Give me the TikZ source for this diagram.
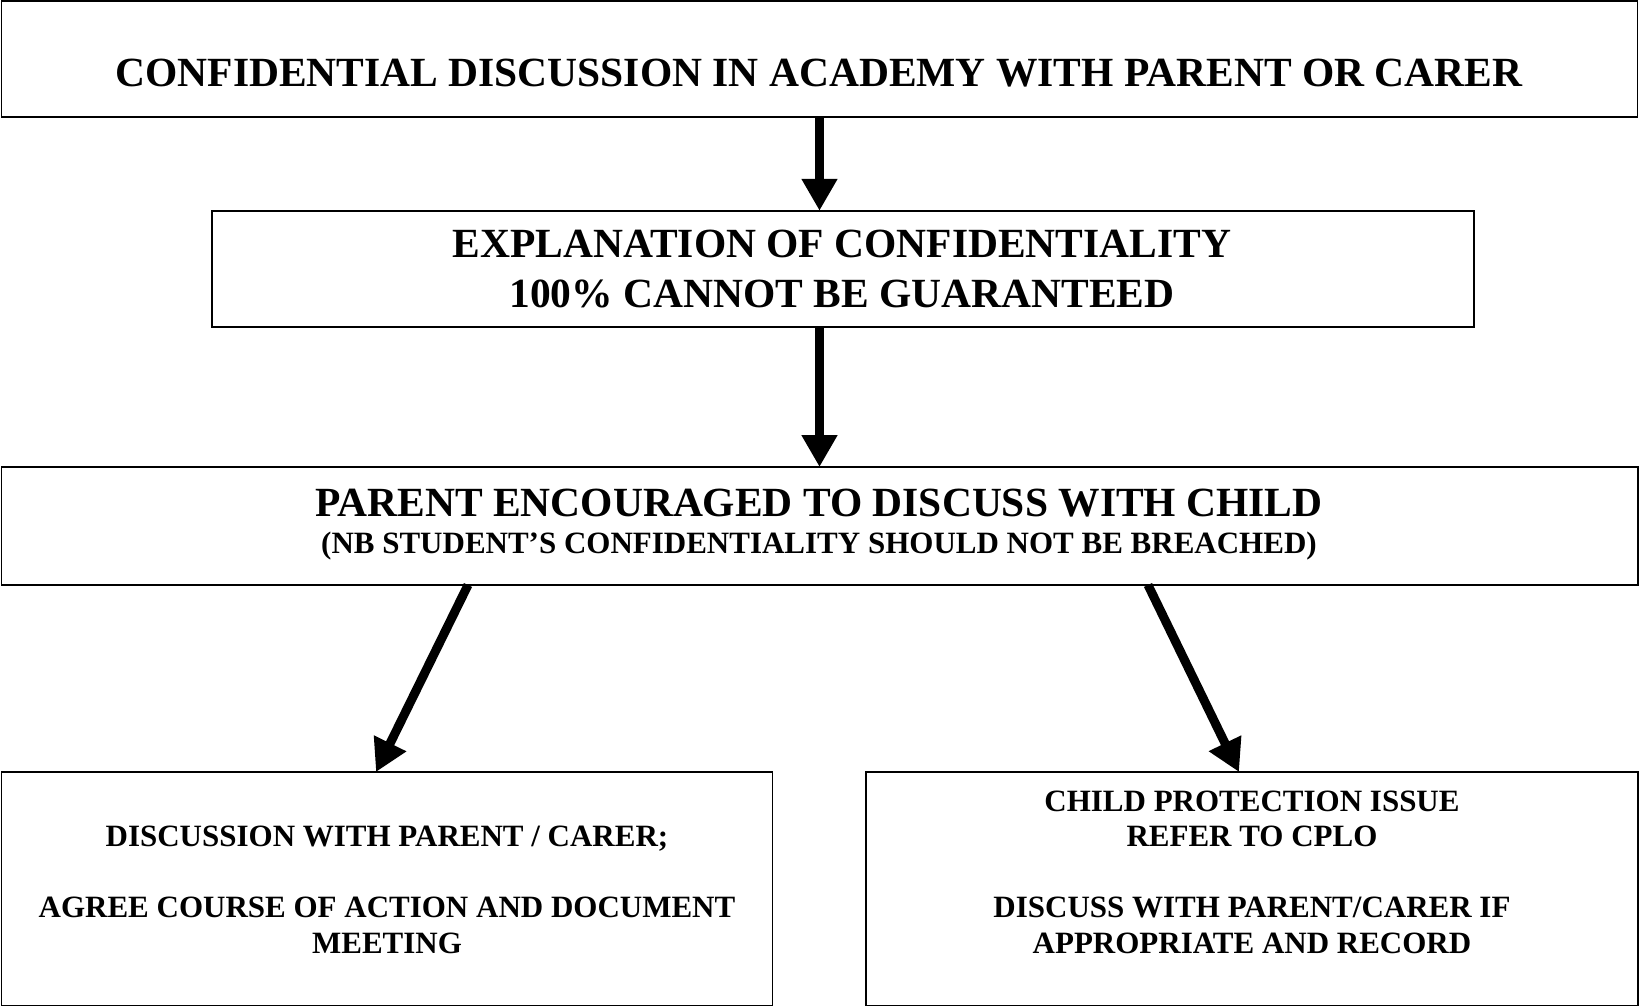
\documentclass[tikz,border=0pt]{standalone}
\usepackage{fontspec}
\setmainfont{Liberation Serif}
\usetikzlibrary{arrows.meta}
\begin{document}
\begin{tikzpicture}[x=1pt,y=-1pt,
  box/.style={draw=black,line width=1.6pt,inner sep=0pt,outer sep=0pt},
  big/.style={inner sep=0pt,anchor=base,font=\bfseries\fontsize{41.5}{48}\selectfont},
  small/.style={inner sep=0pt,anchor=base,font=\bfseries\fontsize{31}{36}\selectfont},
  arr/.style={line width=9pt,-{Triangle[width=34pt,length=32pt]}}]
\useasboundingbox (0,0) rectangle (1639,1007);
% boxes
\node[box,minimum width=1636pt,minimum height=116pt] (b1) at (819.5,59) {};
\node[box,minimum width=1262pt,minimum height=116.5pt] (b2) at (843,269) {};
\node[box,minimum width=1636.5pt,minimum height=118pt] (b3) at (819.75,526) {};
\node[box,minimum width=771pt,minimum height=233.5pt] (b4) at (387,888.75) {};
\node[box,minimum width=772pt,minimum height=233.5pt] (b5) at (1252,888.75) {};
% texts
\node[big] (t1) at (819,86) {CONFIDENTIAL DISCUSSION IN ACADEMY WITH PARENT OR CARER};
\node[big] (t2a) at (842,257) {EXPLANATION OF CONFIDENTIALITY};
\node[big] (t2b) at (842,307) {100\% CANNOT BE GUARANTEED};
\node[big] (t3a) at (819,516) {PARENT ENCOURAGED TO DISCUSS WITH CHILD};
\node[small] (t3b) at (819,553) {(NB STUDENT’S CONFIDENTIALITY SHOULD NOT BE BREACHED)};
\node[small] (t4a) at (387,846.5) {DISCUSSION WITH PARENT / CARER;};
\node[small] (t4b) at (387,917.5) {AGREE COURSE OF ACTION AND DOCUMENT};
\node[small] (t4c) at (387,953) {MEETING};
\node[small] (t5a) at (1252,811.5) {CHILD PROTECTION ISSUE};
\node[small] (t5b) at (1252,846.5) {REFER TO CPLO};
\node[small] (t5c) at (1252,917.5) {DISCUSS WITH PARENT/CARER IF};
\node[small] (t5d) at (1252,953) {APPROPRIATE AND RECORD};
% arrows
\draw[arr] (b1.south) -- (b1.south |- b2.north);
\draw[arr] (b1.south |- b2.south) -- (b1.south |- b3.north);
\draw[arr] ([xshift=466.5pt]b3.south west) -- ([xshift=374.5pt]b4.north west);
\draw[arr] ([xshift=1146.5pt]b3.south west) -- ([xshift=373pt]b5.north west);
\end{tikzpicture}
\end{document}
